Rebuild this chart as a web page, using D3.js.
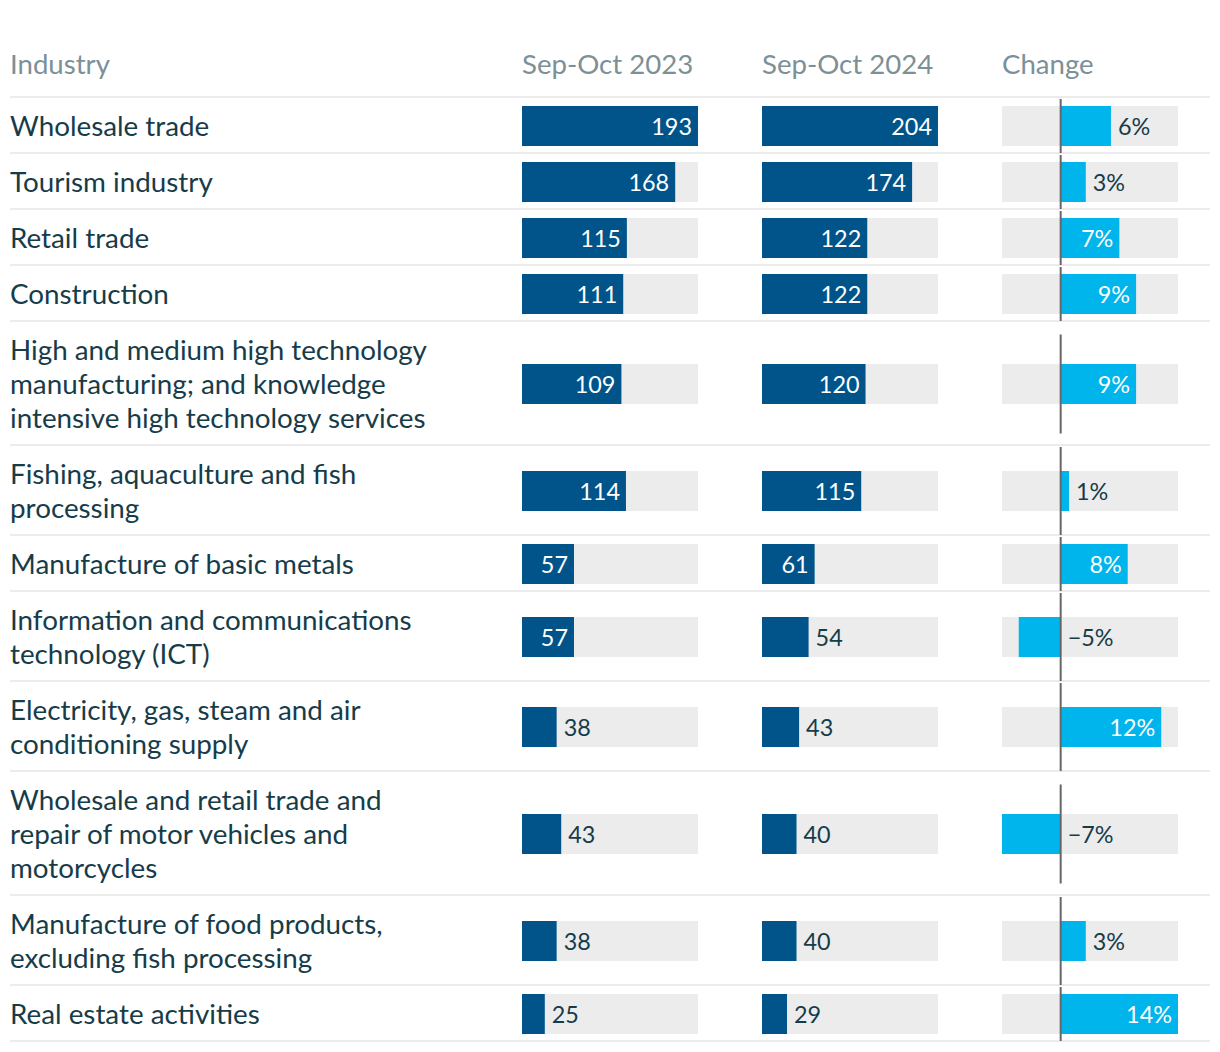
<!DOCTYPE html>
<html>
<head>
<meta charset="utf-8">
<script src="https://cdn.jsdelivr.net/npm/d3@7"></script>
<style>
  html, body { margin: 0; padding: 0; background: #fff; }
  svg { display: block; font-family: Lato, "Open Sans", sans-serif; }
</style>
</head>
<body>
<svg id="chart" width="1220" height="1052"></svg>
<script>
const industries = [
  ["Wholesale trade"],
  ["Tourism industry"],
  ["Retail trade"],
  ["Construction"],
  ["High and medium high technology", "manufacturing; and knowledge", "intensive high technology services"],
  ["Fishing, aquaculture and fish", "processing"],
  ["Manufacture of basic metals"],
  ["Information and communications", "technology (ICT)"],
  ["Electricity, gas, steam and air", "conditioning supply"],
  ["Wholesale and retail trade and", "repair of motor vehicles and", "motorcycles"],
  ["Manufacture of food products,", "excluding fish processing"],
  ["Real estate activities"]
];
const values2023 = [193, 168, 115, 111, 109, 114, 57, 57, 38, 43, 38, 25];
const values2024 = [204, 174, 122, 122, 120, 115, 61, 54, 43, 40, 40, 29];
const changePct  = [6, 3, 7, 9, 9, 1, 8, -5, 12, -7, 3, 14];
const headers = ["Industry", "Sep-Oct 2023", "Sep-Oct 2024", "Change"];

const C = {
  dark: "#00548a", light: "#00b4ec", track: "#ececec", rule: "#ececec",
  zero: "#666666", text: "#163c4a", head: "#7c9098", white: "#ffffff"
};

const svg = d3.select("#chart");
const lineH = 34, rowPad = 22, headerBottom = 97;
const colX = [10, 522, 762, 1002], colW = 176;
const barH = 40;

// row layout
let y = headerBottom;
const rows = industries.map((lines, i) => {
  const h = rowPad + lines.length * lineH;
  const r = { i, lines, top: y, h, c: y + h / 2 + 1 };
  y += h;
  return r;
});

// scales
const x1 = d3.scaleLinear().domain([0, d3.max(values2023)]).range([colX[1], colX[1] + colW]);
const x2 = d3.scaleLinear().domain([0, d3.max(values2024)]).range([colX[2], colX[2] + colW]);
const xc = d3.scaleLinear().domain([d3.min(changePct), d3.max(changePct)]).range([colX[3], colX[3] + colW]);

// header
svg.selectAll("text.hdr").data(headers).join("text")
  .attr("class", "hdr")
  .attr("x", (d, i) => colX[i]).attr("y", 74)
  .attr("font-size", 27.6).attr("fill", C.head).text(d => d);

// rules
const ruleYs = [headerBottom].concat(rows.map(r => r.top + r.h));
svg.selectAll("line.rule").data(ruleYs).join("line")
  .attr("class", "rule")
  .attr("x1", 10).attr("x2", 1210).attr("y1", d => d).attr("y2", d => d)
  .attr("stroke", C.rule).attr("stroke-width", 2);

// row labels
const g = svg.selectAll("g.row").data(rows).join("g").attr("class", "row");
g.each(function (r) {
  const n = r.lines.length;
  d3.select(this).selectAll("text.lab").data(r.lines).join("text")
    .attr("class", "lab")
    .attr("x", colX[0])
    .attr("y", (d, k) => r.c + 10 + (k - (n - 1) / 2) * lineH)
    .attr("font-size", 27.8).attr("fill", C.text).text(d => d);
});

function fits(sel, text, width, size) {
  const t = svg.append("text").attr("font-size", size).text(text);
  const w = t.node().getComputedTextLength();
  t.remove();
  return width > w + 23;
}

const fs = 23.4;
function valueBars(vals, sc, x0) {
  g.each(function (r) {
    const s = d3.select(this);
    const v = vals[r.i];
    const by = r.c - barH / 2;
    s.append("rect").attr("x", x0).attr("y", by).attr("width", colW).attr("height", barH).attr("fill", C.track);
    const w = sc(v) - sc(0);
    s.append("rect").attr("x", sc(0)).attr("y", by).attr("width", w).attr("height", barH).attr("fill", C.dark);
    const label = String(v);
    const inside = fits(s, label, w, fs);
    s.append("text")
      .attr("x", inside ? sc(v) - 6 : sc(v) + 7)
      .attr("y", r.c + 9)
      .attr("text-anchor", inside ? "end" : "start")
      .attr("font-size", fs)
      .attr("fill", inside ? C.white : C.text)
      .text(label);
  });
}
valueBars(values2023, x1, colX[1]);
valueBars(values2024, x2, colX[2]);

// change column
g.each(function (r) {
  const s = d3.select(this);
  const v = changePct[r.i];
  const by = r.c - barH / 2;
  s.append("rect").attr("x", colX[3]).attr("y", by).attr("width", colW).attr("height", barH).attr("fill", C.track);
  const x0 = xc(0), xv = xc(v);
  s.append("rect").attr("x", Math.min(x0, xv)).attr("y", by).attr("width", Math.abs(xv - x0)).attr("height", barH).attr("fill", C.light);
  const label = (v < 0 ? "\u2212" + Math.abs(v) : v) + "%";
  const inside = v > 0 && fits(s, label, xv - x0, fs);
  s.append("text")
    .attr("x", inside ? xv - 6 : (v > 0 ? xv + 7 : x0 + 7))
    .attr("y", r.c + 9)
    .attr("text-anchor", inside ? "end" : "start")
    .attr("font-size", fs)
    .attr("fill", inside ? C.white : C.text)
    .text(label);
  const lh = Math.min(r.h - 2, 99);
  s.append("line")
    .attr("x1", x0).attr("x2", x0)
    .attr("y1", r.c - lh / 2).attr("y2", r.c + lh / 2)
    .attr("stroke", C.zero).attr("stroke-width", 2);
});
</script>
</body>
</html>
